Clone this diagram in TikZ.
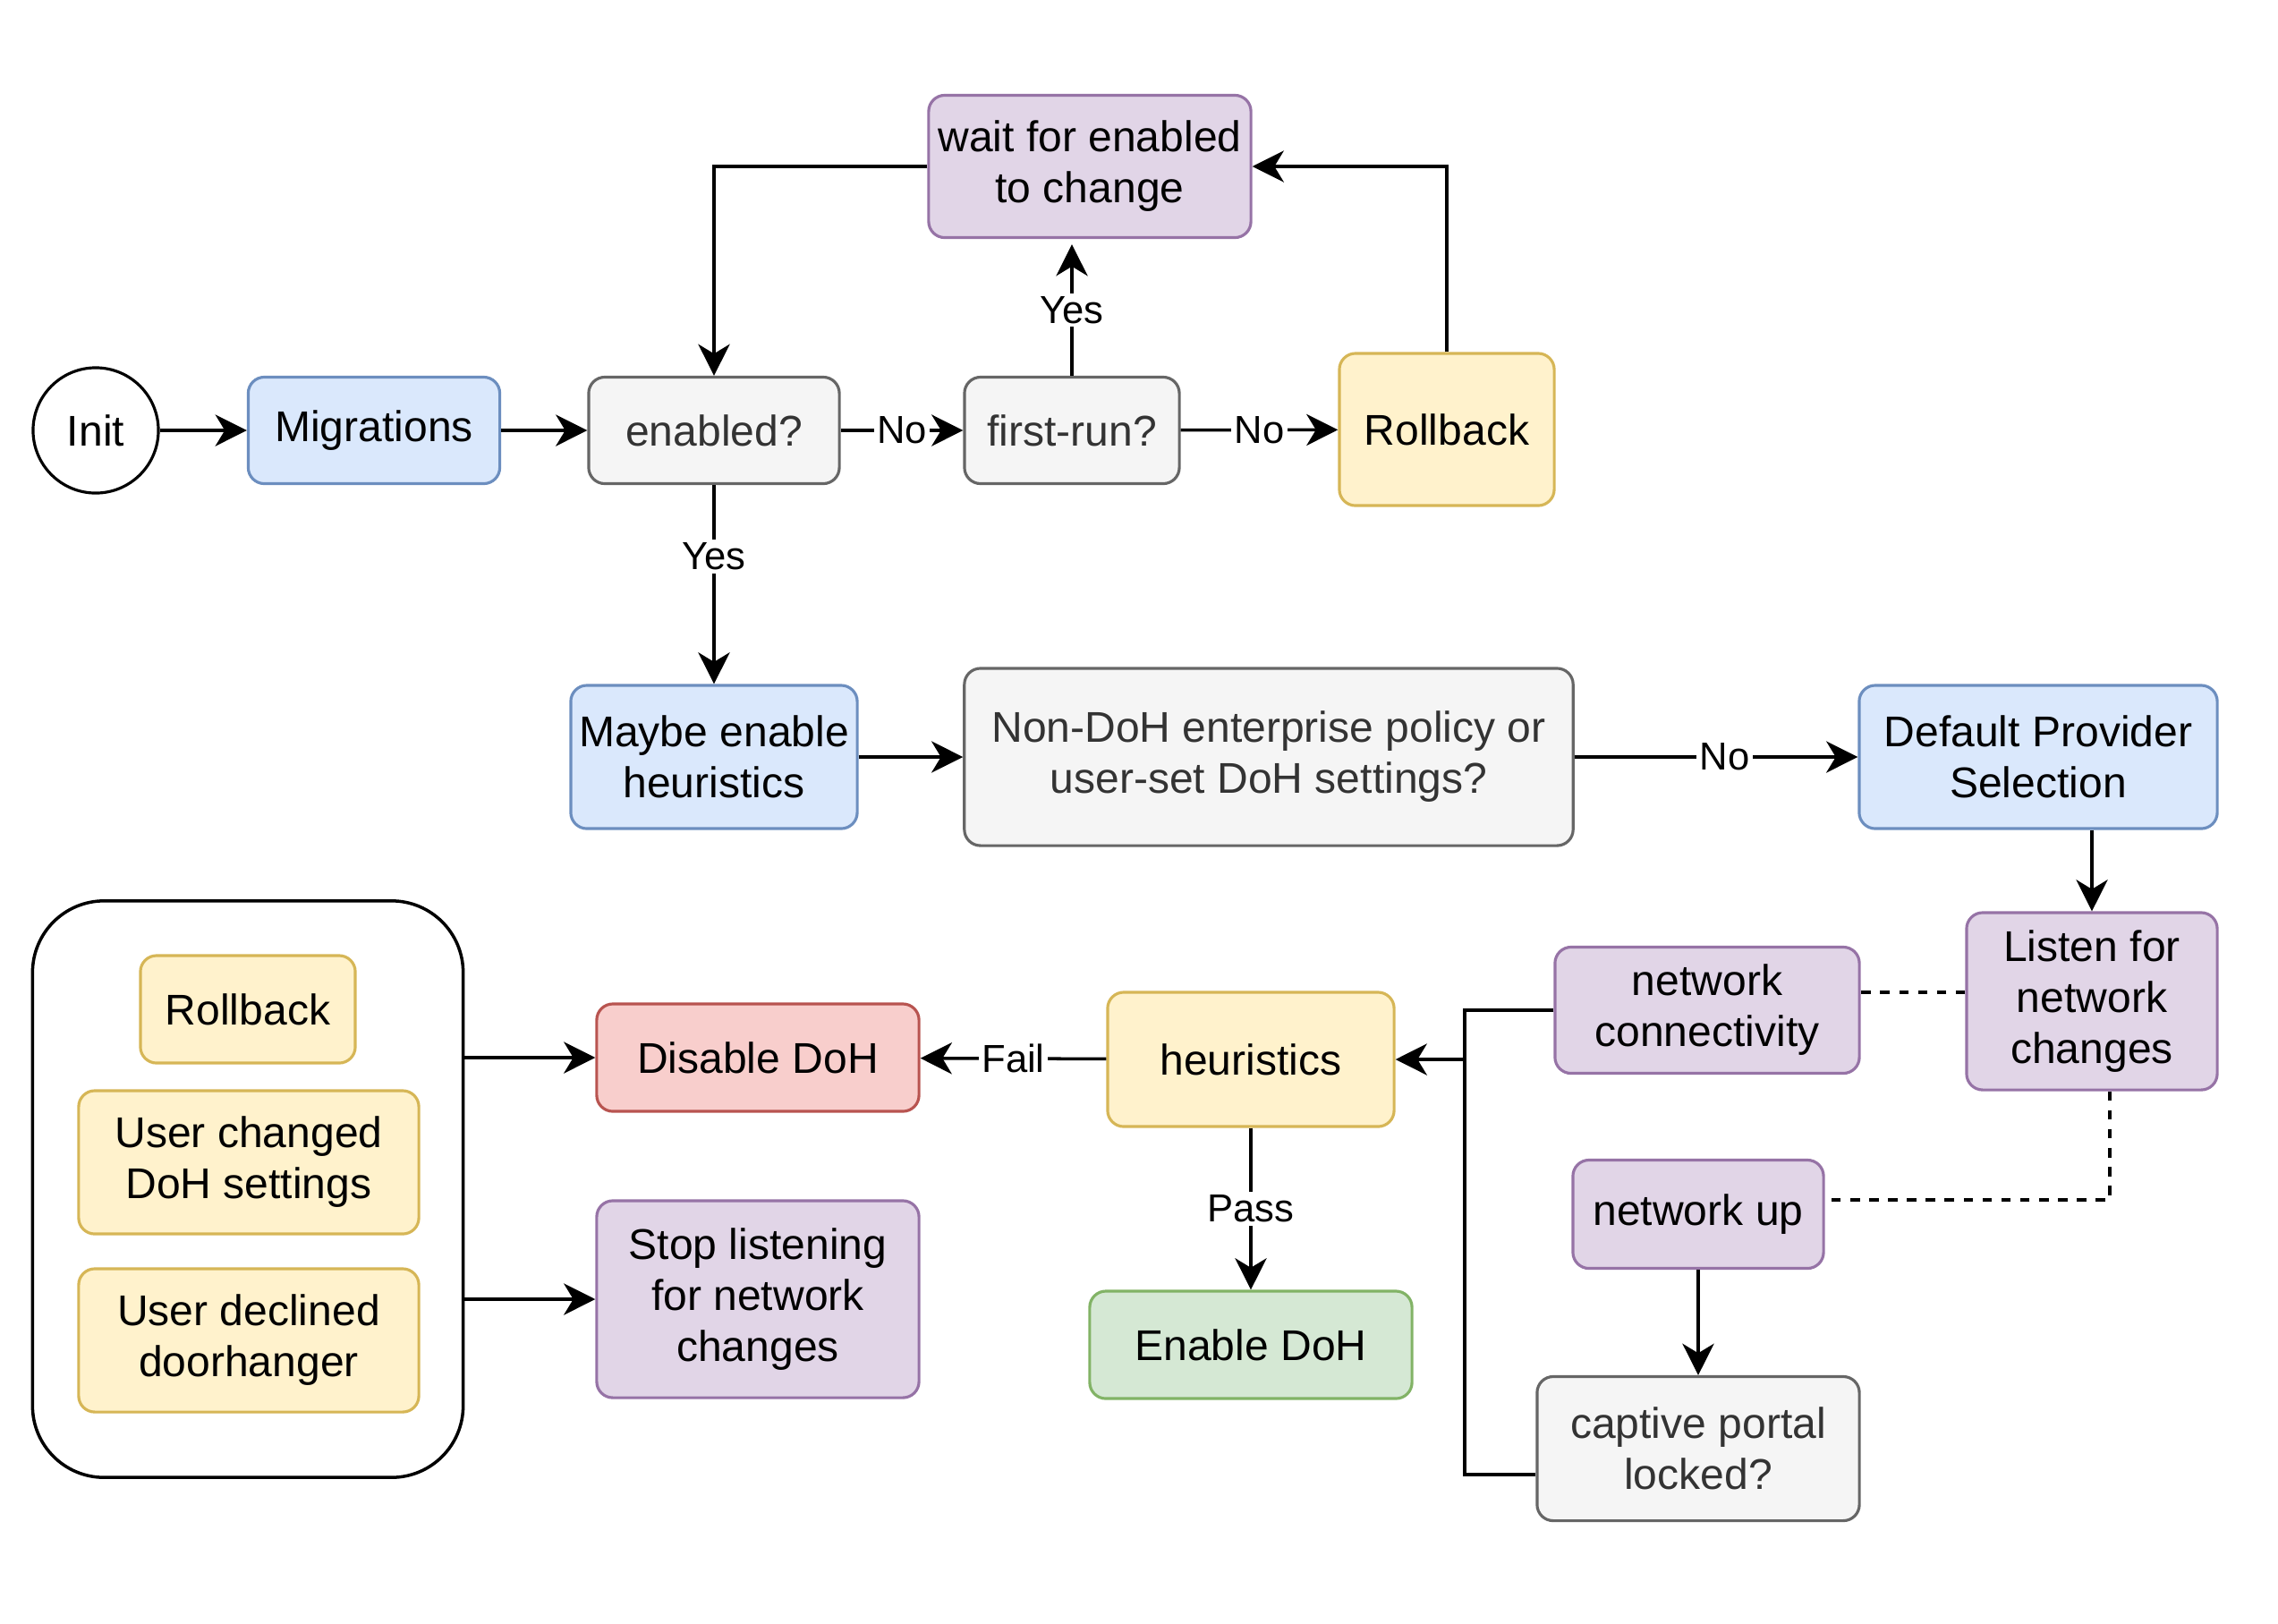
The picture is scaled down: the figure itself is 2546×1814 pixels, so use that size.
\documentclass[tikz,border=0pt]{standalone}
\usepackage{fontspec}
\setmainfont{Liberation Sans}
\usepackage{tikz}
\usepackage{xcolor}
\usetikzlibrary{shapes.geometric}
\usetikzlibrary{arrows.meta, calc, positioning}

\definecolor{blueFill}{HTML}{DAE8FC}
\definecolor{blueLine}{HTML}{6C8EBF}
\definecolor{grayFill}{HTML}{F5F5F5}
\definecolor{grayLine}{HTML}{666666}
\definecolor{grayText}{HTML}{333333}
\definecolor{yellowFill}{HTML}{FFF2CC}
\definecolor{yellowLine}{HTML}{D6B656}
\definecolor{purpleFill}{HTML}{E1D5E7}
\definecolor{purpleLine}{HTML}{9673A6}
\definecolor{redFill}{HTML}{F8CECC}
\definecolor{redLine}{HTML}{B85450}
\definecolor{greenFill}{HTML}{D5E8D4}
\definecolor{greenLine}{HTML}{82B366}

\begin{document}
\begin{tikzpicture}[x=0.01cm, y=-0.01cm,
  >={Stealth[length=10pt, width=10pt, inset=3pt]},
  every node/.style={font=\fontsize{13.66}{16.2}\selectfont},
  box/.style={draw, rounded corners=0.18cm, line width=0.9pt, align=center, inner sep=2pt},
  bluebox/.style={box, fill=blueFill, draw=blueLine},
  graybox/.style={box, fill=grayFill, draw=grayLine, text=grayText},
  yellowbox/.style={box, fill=yellowFill, draw=yellowLine},
  purplebox/.style={box, fill=purpleFill, draw=purpleLine},
  redbox/.style={box, fill=redFill, draw=redLine},
  greenbox/.style={box, fill=greenFill, draw=greenLine},
  edgelabel/.style={fill=white, inner sep=1pt, font=\fontsize{12.4}{14}\selectfont},
  link/.style={line width=1pt},
  dashlink/.style={line width=1pt, dash pattern=on 3pt off 3pt}
]
\useasboundingbox (0,0) rectangle (2546,1814);

\node[draw, circle, line width=0.9pt, fill=white, minimum size=1.4cm, inner sep=0pt] (init) at (107,481) {Init};

\node[bluebox, minimum width=2.81cm, minimum height=1.19cm] (migrations) at (418,481) {Migrations};

\node[graybox, minimum width=2.80cm, minimum height=1.19cm] (enabled) at (798,481) {enabled?};

\node[graybox, minimum width=2.40cm, minimum height=1.19cm] (firstrun) at (1198,481) {first-run?};

\node[yellowbox, minimum width=2.40cm, minimum height=1.70cm] (rollbackTop) at (1617,480) {Rollback};

\node[purplebox, minimum width=3.60cm, minimum height=1.59cm] (waitChange) at (1218,186) {wait for enabled\\to change};

\node[bluebox, minimum width=3.20cm, minimum height=1.60cm] (maybeHeur) at (798,846) {Maybe enable\\heuristics};

\node[graybox, minimum width=6.80cm, minimum height=1.98cm] (policy) at (1418,846) {Non-DoH enterprise policy or\\user-set DoH settings?};

\node[bluebox, minimum width=4.00cm, minimum height=1.60cm] (defProvider) at (2278,846) {Default Provider\\Selection};

\node[purplebox, minimum width=2.80cm, minimum height=1.98cm] (listen) at (2338,1119) {Listen for\\network\\changes};

\node[purplebox, minimum width=3.40cm, minimum height=1.41cm] (netConn) at (1908,1129) {network\\connectivity};

\node[purplebox, minimum width=2.80cm, minimum height=1.21cm] (netUp) at (1898,1357) {network up};

\node[graybox, minimum width=3.60cm, minimum height=1.61cm] (captive) at (1898,1619) {captive portal\\locked?};

\node[yellowbox, minimum width=3.20cm, minimum height=1.50cm] (heuristics) at (1398,1184) {heuristics};

\node[greenbox, minimum width=3.60cm, minimum height=1.20cm] (enableDoh) at (1398,1503) {Enable DoH};

\node[redbox, minimum width=3.60cm, minimum height=1.20cm] (disableDoh) at (847,1182) {Disable DoH};

\node[purplebox, minimum width=3.60cm, minimum height=2.20cm] (stopListen) at (847,1452) {Stop listening\\for network\\changes};

\node[draw, rounded corners=0.8cm, line width=1pt, minimum width=4.81cm, minimum height=6.44cm] (triggers) at (277,1329) {};

\node[yellowbox, minimum width=2.40cm, minimum height=1.20cm] (rollbackSmall) at (277,1128) {Rollback};

\node[yellowbox, minimum width=3.80cm, minimum height=1.60cm] (userChanged) at (278,1299) {User changed\\DoH settings};

\node[yellowbox, minimum width=3.80cm, minimum height=1.60cm] (userDeclined) at (278,1498) {User declined\\doorhanger};

\coordinate (busTop) at (1637,1129);
\coordinate (busMid) at (1637,1184);
\coordinate (busBot) at (1637,1648);

\draw [->,link] (init) -- (migrations);
\draw [->,link] (migrations) -- (enabled);
\draw [->,link] (enabled) -- node[edgelabel] {No} (firstrun);
\draw [->,link] (firstrun) -- node[edgelabel] {No} (rollbackTop);
\draw [->,link] (firstrun) -- node[edgelabel] {Yes} ([yshift=-0.06cm]waitChange.south -| firstrun);
\draw [->,link] (rollbackTop.north) |- (waitChange.east);
\draw [->,link] (waitChange.west) -| (enabled.north);
\draw [->,link] (enabled) -- node[edgelabel, pos=0.36] {Yes} (maybeHeur);
\draw [->,link] (maybeHeur) -- (policy);
\draw [->,link] (policy) -- node[edgelabel, pos=0.53] {No} (defProvider);
\draw [->,link] (defProvider.south -| listen) -- (listen.north);
\draw [dashlink] ([yshift=0.1cm]listen.west) -- ([yshift=0.1cm]listen.west -| netConn.east);
\draw [dashlink] ([xshift=0.2cm]listen.south) |- ([yshift=0.16cm]netUp.east);
\draw [->,link] (netUp) -- (captive);
\draw [link] (netConn.west) -- (busTop) -- (busBot) -- (busBot -| captive.west);
\draw [->,link] (busMid) -- (heuristics.east);
\draw [->,link] (heuristics) -- node[edgelabel] {Fail} (disableDoh);
\draw [->,link] (heuristics) -- node[edgelabel] {Pass} (enableDoh);
\draw [->,link] (triggers.east |- disableDoh) -- (disableDoh);
\draw [->,link] (triggers.east |- stopListen) -- (stopListen);
\end{tikzpicture}
\end{document}
